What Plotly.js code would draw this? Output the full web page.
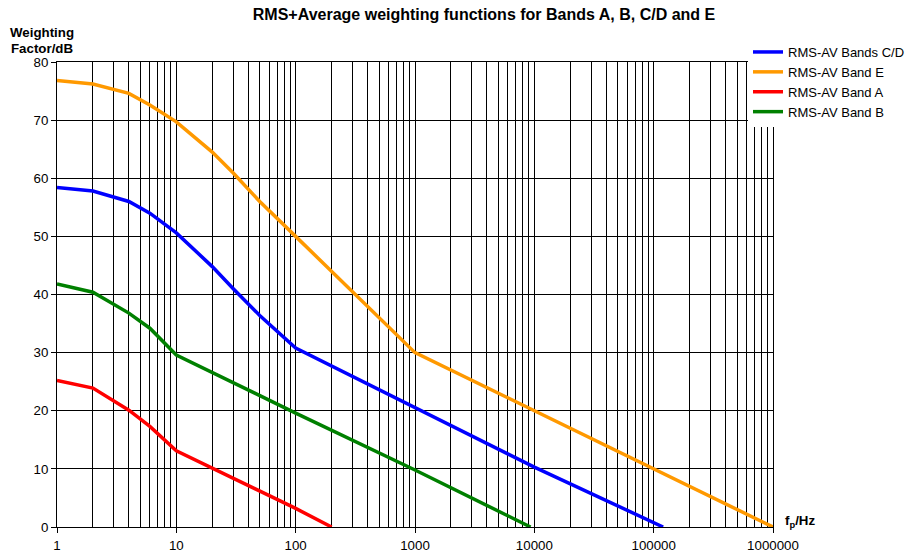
<!DOCTYPE html>
<html>
<head>
<meta charset="utf-8">
<script src="https://cdn.plot.ly/plotly-3.0.1.min.js"></script>
<style>html,body{margin:0;padding:0;background:#fff;}#chart{width:911px;height:553px;}</style>
</head>
<body>
<div id="chart"></div>
<script>
// Frequency points (Hz) and weighting factors (dB) per band
var freqCD = [1, 2, 4, 6, 10, 20, 30, 50, 100, 1000, 10000, 120000];
var valCD  = [58.4, 57.8, 56.0, 54.0, 50.6, 44.8, 41.0, 36.4, 30.8, 20.5, 10.3, 0];

var freqE = [1, 2, 4, 6, 10, 20, 30, 50, 100, 1000, 1000000];
var valE  = [76.8, 76.2, 74.6, 72.6, 69.7, 64.5, 60.9, 56.0, 50.0, 30.0, 0];

var freqA = [1, 2, 4, 6, 10, 100, 200];
var valA  = [25.2, 23.9, 20.1, 17.3, 13.1, 3.2, 0];

var freqB = [1, 2, 4, 6, 10, 100, 1000, 9300];
var valB  = [41.8, 40.4, 36.8, 34.2, 29.6, 19.6, 9.8, 0];

var seriesNames = ['RMS-AV Bands C/D', 'RMS-AV Band E', 'RMS-AV Band A', 'RMS-AV Band B'];
var seriesColors = ['#0000ff', '#ff9900', '#ff0000', '#008000'];

var xTickVals = [1, 10, 100, 1000, 10000, 100000, 1000000];
var xTickText = ['1', '10', '100', '1000', '10000', '100000', '1000000'];
var yTickVals = [0, 10, 20, 30, 40, 50, 60, 70, 80];

var xs = [freqCD, freqE, freqA, freqB];
var ys = [valCD, valE, valA, valB];

var traces = xs.map(function (x, i) {
  return {
    x: x, y: ys[i], type: 'scatter', mode: 'lines', name: seriesNames[i],
    line: {color: seriesColors[i], width: 3.5}
  };
});

var fam = 'Liberation Sans, Arial, sans-serif';
var font = {family: fam, size: 13.3, color: '#000'};

var layout = {
  width: 911, height: 553,
  margin: {l: 57, r: 138, t: 62, b: 26, pad: 0, autoexpand: false},
  paper_bgcolor: '#fff', plot_bgcolor: '#fff',
  font: font,
  showlegend: true,
  title: {
    text: '<b>RMS+Average weighting functions for Bands A, B, C/D and E</b>',
    font: {family: fam, size: 16, color: '#000'},
    x: 484 / 911, xref: 'container', xanchor: 'center',
    y: 1 - 14 / 553, yref: 'container', yanchor: 'middle'
  },
  xaxis: {
    type: 'log', range: [0, 6], automargin: false,
    tickvals: xTickVals, ticktext: xTickText,
    ticks: 'outside', ticklen: 5, tickcolor: '#000', tickwidth: 1,
    showgrid: true, gridcolor: '#000', gridwidth: 1,
    minor: {dtick: 'D1', showgrid: true, gridcolor: '#000', gridwidth: 1, ticks: ''},
    showline: true, linecolor: '#000', linewidth: 1, mirror: true,
    zeroline: false, tickfont: font, ticklabelstandoff: 1
  },
  yaxis: {
    range: [0, 80], tickvals: yTickVals, automargin: false,
    ticks: 'outside', ticklen: 5, tickcolor: '#000', tickwidth: 1,
    showgrid: true, gridcolor: '#000', gridwidth: 1,
    showline: true, linecolor: '#000', linewidth: 1, mirror: true,
    zeroline: false, tickfont: font
  },
  legend: {
    x: (748 - 57) / 716, xanchor: 'left', xref: 'paper',
    y: 1 + (62 - 37) / 465, yanchor: 'top', yref: 'paper',
    bgcolor: '#fff', borderwidth: 0,
    font: {family: fam, size: 13, color: '#000'}, tracegroupgap: 0
  },
  annotations: [
    {text: '<b>Weighting</b>', xref: 'paper', yref: 'paper',
     x: -15 / 716, y: 1 + (62 - 32) / 465, xanchor: 'center', yanchor: 'middle',
     showarrow: false, font: font},
    {text: '<b>Factor/dB</b>', xref: 'paper', yref: 'paper',
     x: -15 / 716, y: 1 + (62 - 48) / 465, xanchor: 'center', yanchor: 'middle',
     showarrow: false, font: font},
    {text: '<b>f<sub>p</sub>/Hz</b>', xref: 'paper', yref: 'paper',
     x: (783 - 57) / 716, y: (527 - 521) / 465, xanchor: 'left', yanchor: 'middle',
     showarrow: false, font: font}
  ]
};

Plotly.newPlot('chart', traces, layout, {displayModeBar: false, staticPlot: true});
</script>
</body>
</html>
